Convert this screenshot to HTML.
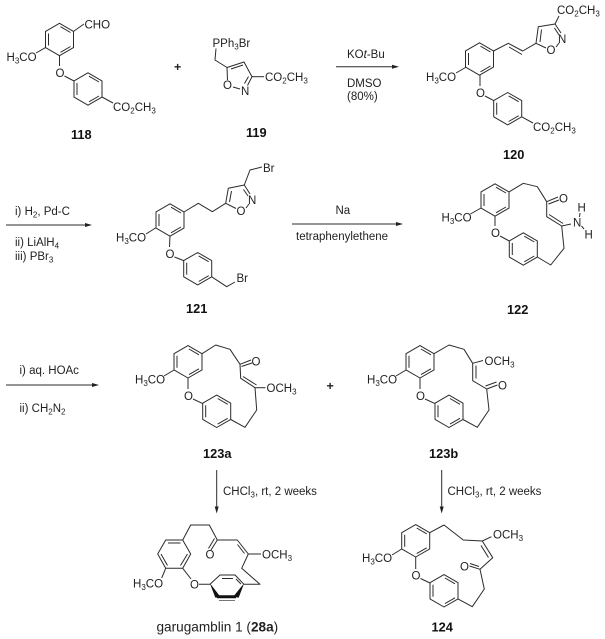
<!DOCTYPE html>
<html><head><meta charset="utf-8"><style>
html,body{margin:0;padding:0;background:#fff}
svg{display:block;filter:blur(.3px)}
line,polyline,polygon{stroke:#2b2b2b;stroke-width:1;fill:none;stroke-linejoin:round}
text{font-family:"Liberation Sans",sans-serif;font-size:11.5px;fill:#222}
.b{font-weight:bold;font-size:12.8px;fill:#111}
.s{font-size:8px}
.m{font-size:12.4px}
.g{font-size:13.6px}
.ah{fill:#222;stroke:none}
.bold{fill:#111;stroke:#111;stroke-width:.5}
</style></head><body>
<svg width="605" height="639" viewBox="0 0 605 639" xmlns="http://www.w3.org/2000/svg">
<defs>
<g id="r"><polygon points="0,-16.2 14,-8.1 14,8.1 0,16.2 -14,8.1 -14,-8.1"/><line x1="-11" y1="-6" x2="-11" y2="6"/><line x1="1" y1="-12.8" x2="11" y2="-7"/><line x1="11" y1="7" x2="1" y2="12.8"/></g>
</defs>

<!-- 118 -->
<use href="#r" x="59.5" y="39.5"/><use href="#r" x="88" y="89"/>
<polyline points="73.5,31.4 84,24"/>
<text x="84.5" y="28.5">CHO</text>
<polyline points="45.5,47.6 36,53"/>
<text x="6.5" y="61">H<tspan class="s" dy="2.5">3</tspan><tspan dy="-2.5">CO</tspan></text>
<text x="55.5" y="77">O</text>
<polyline points="59.5,55.7 59.5,66"/><polyline points="64.5,76 74,81"/>
<polyline points="102,97 113,103"/>
<text x="113" y="111">CO<tspan class="s" dy="2.5">2</tspan><tspan dy="-2.5">CH</tspan><tspan class="s" dy="2.5">3</tspan></text>
<text class="b" x="71" y="139">118</text>

<text class="m" x="174" y="71" style="font-weight:bold">+</text>

<!-- 119 -->
<text x="212.5" y="47">PPh<tspan class="s" dy="2.5">3</tspan><tspan dy="-2.5">Br</tspan></text>
<polyline points="216,48.5 215,60 227,67.5 244,62 252,76.7"/>
<polyline points="252,76.7 247.5,85.5"/><polyline points="227,67.5 227.5,80"/>
<line x1="231" y1="69" x2="243" y2="65"/><line x1="248.5" y1="76.5" x2="244.5" y2="83.5"/>
<line x1="233" y1="87" x2="240" y2="89"/>
<polyline points="252,76.7 264,76.7"/>
<text x="223" y="89">O</text><text x="241" y="95">N</text>
<text x="265" y="81">CO<tspan class="s" dy="2.5">2</tspan><tspan dy="-2.5">CH</tspan><tspan class="s" dy="2.5">3</tspan></text>
<text class="b" x="246" y="137">119</text>

<!-- arrow 1 -->
<line x1="336" y1="66.7" x2="395" y2="66.7"/><polygon class="ah" points="399,66.7 392,64.7 392,68.7"/>
<text x="347" y="58">KO<tspan font-style="italic">t</tspan>-Bu</text>
<text x="347" y="87">DMSO</text><text x="347" y="100">(80%)</text>

<!-- 120 -->
<use href="#r" x="479.5" y="59"/><use href="#r" x="507.7" y="108.7"/>
<polyline points="493.5,51 508.3,43.3 522.7,51 536,43.3 538.3,26.7 555,24 561,33"/>
<line x1="509" y1="47" x2="522" y2="54.5"/>
<line x1="540" y1="42" x2="541.5" y2="29.5"/><line x1="554.5" y1="28" x2="559" y2="35"/>
<polyline points="536,43.3 546,48"/><polyline points="556,47 559,43"/>
<polyline points="555,24 559,16"/>
<text x="557" y="14">CO<tspan class="s" dy="2.5">2</tspan><tspan dy="-2.5">CH</tspan><tspan class="s" dy="2.5">3</tspan></text>
<text x="558" y="43">N</text><text x="546.5" y="54">O</text>
<polyline points="465.5,67.5 456,73"/>
<text x="426" y="81">H<tspan class="s" dy="2.5">3</tspan><tspan dy="-2.5">CO</tspan></text>
<text x="476" y="97">O</text>
<polyline points="480,75.2 480,86"/><polyline points="485,96 493.7,100.6"/>
<polyline points="521.7,116.8 533,123"/>
<text x="533" y="131">CO<tspan class="s" dy="2.5">2</tspan><tspan dy="-2.5">CH</tspan><tspan class="s" dy="2.5">3</tspan></text>
<text class="b" x="503" y="159">120</text>

<!-- arrow 2 -->
<line x1="6" y1="225" x2="88" y2="225"/><polygon class="ah" points="92,225 85,223 85,227"/>
<text x="15" y="215">i) H<tspan class="s" dy="2.5">2</tspan><tspan dy="-2.5">, Pd-C</tspan></text>
<text x="15" y="246">ii) LiAlH<tspan class="s" dy="2.5">4</tspan></text>
<text x="15" y="260">iii) PBr<tspan class="s" dy="2.5">3</tspan></text>

<!-- 121 -->
<use href="#r" x="170" y="220"/><use href="#r" x="197.7" y="268.7"/>
<polyline points="184,212 198.3,203.3 212.3,211.7 225.7,203.3 228.3,188.3 244.3,185 250,194"/>
<line x1="229.5" y1="202" x2="231.5" y2="191"/><line x1="243.5" y1="189.5" x2="248" y2="196"/>
<polyline points="225.7,203.3 236,208.5"/><polyline points="246,208 249,204"/>
<polyline points="244.3,185 250,170 262,167"/>
<text x="263" y="172">Br</text>
<text x="248" y="204">N</text><text x="236.5" y="215">O</text>
<polyline points="155.5,228 146,234"/>
<text x="116" y="241.5">H<tspan class="s" dy="2.5">3</tspan><tspan dy="-2.5">CO</tspan></text>
<text x="165.5" y="258">O</text>
<polyline points="170,236 169.5,247"/><polyline points="174.5,257 183.7,260.6"/>
<polyline points="211.7,276.8 226.7,286.7 235,282"/>
<text x="236.5" y="282">Br</text>
<text class="b" x="186" y="313">121</text>

<!-- arrow 3 -->
<line x1="292" y1="224" x2="399" y2="224"/><polygon class="ah" points="403,224 396,222 396,226"/>
<text x="335.5" y="214">Na</text>
<text x="296" y="240">tetraphenylethene</text>

<!-- 122 -->
<use href="#r" x="495" y="200"/><use href="#r" x="523.3" y="249"/>
<polyline points="509,191.9 523.3,183.3 537.3,186.7 546.7,201.7 546.7,216.7 561.7,226 564,248.3 550.7,265 537.3,257"/>
<line x1="549" y1="214.5" x2="563" y2="223.5"/>
<line x1="546.7" y1="201.7" x2="558" y2="197"/><line x1="548.5" y1="204" x2="559" y2="200"/>
<text x="559" y="202.5">O</text>
<polyline points="561.7,226 571,224"/>
<text x="573" y="226.5">N</text><text x="577.5" y="211.5">H</text><text x="584.5" y="238.5">H</text>
<polyline points="580,213 579.5,217"/><polyline points="581.5,226 584,229"/>
<polyline points="481,208 470.5,214"/>
<text x="441.5" y="221.5">H<tspan class="s" dy="2.5">3</tspan><tspan dy="-2.5">CO</tspan></text>
<text x="491" y="237">O</text>
<polyline points="495,216.2 495,226"/><polyline points="500,236 509.3,241"/>
<text class="b" x="507" y="314">122</text>

<!-- arrow 4 -->
<line x1="6" y1="385" x2="95" y2="385"/><polygon class="ah" points="99,385 92,383 92,387"/>
<text x="19.5" y="374">i) aq. HOAc</text>
<text x="19.5" y="412">ii) CH<tspan class="s" dy="2.5">2</tspan><tspan dy="-2.5">N</tspan><tspan class="s" dy="2.5">2</tspan></text>

<!-- 123a -->
<use href="#r" x="188" y="361.8"/><use href="#r" x="216.7" y="411.3"/>
<polyline points="202,353.7 215.7,345 230,349.3 240,364.3 240.7,378.3 255,387.7 256.7,410 245,427.3 230.7,419.5"/>
<line x1="243" y1="376.5" x2="256.5" y2="385"/>
<line x1="240" y1="364.3" x2="251" y2="360"/><line x1="241.5" y1="366.5" x2="252" y2="363"/>
<text x="251.5" y="365.5">O</text>
<polyline points="255,387.7 265.5,387.7"/>
<text x="266.5" y="392">OCH<tspan class="s" dy="2.5">3</tspan></text>
<polyline points="174,370 164,376"/>
<text x="135" y="383.5">H<tspan class="s" dy="2.5">3</tspan><tspan dy="-2.5">CO</tspan></text>
<text x="184" y="400">O</text>
<polyline points="188,378 188,389"/><polyline points="193,399 202.7,403.6"/>
<text class="b" x="203" y="458">123a</text>
<text class="m" x="326.5" y="390" style="font-weight:bold">+</text>

<!-- 123b -->
<use href="#r" x="420" y="361.8"/><use href="#r" x="449" y="411.3"/>
<polyline points="434,353.7 449,345 464,349.3 472.7,363.3 472.7,380.7 486.7,389 489,410 477.3,427.3 463,419.5"/>
<line x1="476" y1="365.5" x2="476" y2="378.5"/>
<line x1="486.7" y1="389" x2="497.5" y2="385"/><line x1="485.5" y1="386" x2="496.5" y2="382"/>
<text x="498" y="389.5">O</text>
<polyline points="472.7,363.3 483,360.5"/>
<text x="484.5" y="365">OCH<tspan class="s" dy="2.5">3</tspan></text>
<polyline points="406,370 396,376"/>
<text x="367" y="383.5">H<tspan class="s" dy="2.5">3</tspan><tspan dy="-2.5">CO</tspan></text>
<text x="416" y="400">O</text>
<polyline points="420,378 420,389"/><polyline points="425,399 435,403.6"/>
<text class="b" x="429" y="458">123b</text>

<!-- vertical arrows -->
<line x1="216.7" y1="470" x2="216.7" y2="509"/><polygon class="ah" points="216.7,513.5 214.7,506.5 218.7,506.5"/>
<text x="223" y="495">CHCl<tspan class="s" dy="2.5">3</tspan><tspan dy="-2.5">, rt, 2 weeks</tspan></text>
<line x1="441.7" y1="470" x2="441.7" y2="509"/><polygon class="ah" points="441.7,513.5 439.7,506.5 443.7,506.5"/>
<text x="447.5" y="495">CHCl<tspan class="s" dy="2.5">3</tspan><tspan dy="-2.5">, rt, 2 weeks</tspan></text>

<!-- garugamblin -->
<polygon points="165.7,540 182.7,540 190.7,554 182.7,568.3 165.7,568.3 157.7,554"/>
<line x1="168" y1="543" x2="180.5" y2="543"/>
<line x1="187.5" y1="554" x2="180.5" y2="565.5"/>
<line x1="161" y1="554" x2="167.5" y2="565.5"/>
<polyline points="182.7,540 190.7,525 209.3,525 217.3,540 237.3,540 248.3,554 241.7,568.3 260,584.3 244,584.3"/>
<line x1="237.5" y1="544.5" x2="244.5" y2="553.5"/><line x1="248.3" y1="554" x2="261" y2="554"/>
<line x1="217.3" y1="540" x2="211" y2="550"/><line x1="214.5" y1="538.5" x2="208.5" y2="548.5"/>
<text x="205.5" y="558.5">O</text>
<text x="262" y="558.5">OCH<tspan class="s" dy="2.5">3</tspan></text>
<polyline points="165.7,568.3 161.7,578"/>
<text x="133" y="587.5">H<tspan class="s" dy="2.5">3</tspan><tspan dy="-2.5">CO</tspan></text>
<polyline points="182.7,568.3 191,579"/>
<text x="190" y="588.5">O</text>
<polyline points="199,584.3 210,584.3 220,575 235,575 244,584.3"/>
<line x1="222" y1="578.5" x2="233" y2="578.5"/>
<line x1="236" y1="579" x2="241" y2="584"/>
<polygon class="bold" points="210.5,584.3 215.5,597.5 219.5,596"/>
<polygon class="bold" points="217,595.5 236,595.5 236,598 217,598"/>
<polygon class="bold" points="243.5,584.3 234,596 238.5,597.5"/>
<line x1="219" y1="600.5" x2="235" y2="600.5" style="stroke:#777"/>
<text x="156.5" y="631.5" class="g">garugamblin 1 (<tspan style="font-weight:bold">28a</tspan>)</text>

<!-- 124 -->
<use href="#r" x="415.7" y="540.8"/><use href="#r" x="444" y="590.8"/>
<polyline points="429.7,532.7 444,525 463.3,540 482.3,541 492.7,557.7 480,569.3 484.3,589 472.3,606.7 458,598.9"/>
<line x1="482.3" y1="541" x2="491.5" y2="536.7"/>
<line x1="481" y1="545.5" x2="488.5" y2="557.5"/>
<line x1="480" y1="569.3" x2="469.5" y2="566"/><line x1="479" y1="566.5" x2="470" y2="563.5"/>
<text x="460" y="570.5">O</text>
<text x="493" y="538.5">OCH<tspan class="s" dy="2.5">3</tspan></text>
<polyline points="401.7,549 392,555"/>
<text x="362" y="562">H<tspan class="s" dy="2.5">3</tspan><tspan dy="-2.5">CO</tspan></text>
<text x="411.5" y="579.5">O</text>
<polyline points="415.7,557 415.7,569"/><polyline points="420.5,578.5 430,583"/>
<text class="b" x="431.5" y="631.5">124</text>
</svg>
</body></html>
